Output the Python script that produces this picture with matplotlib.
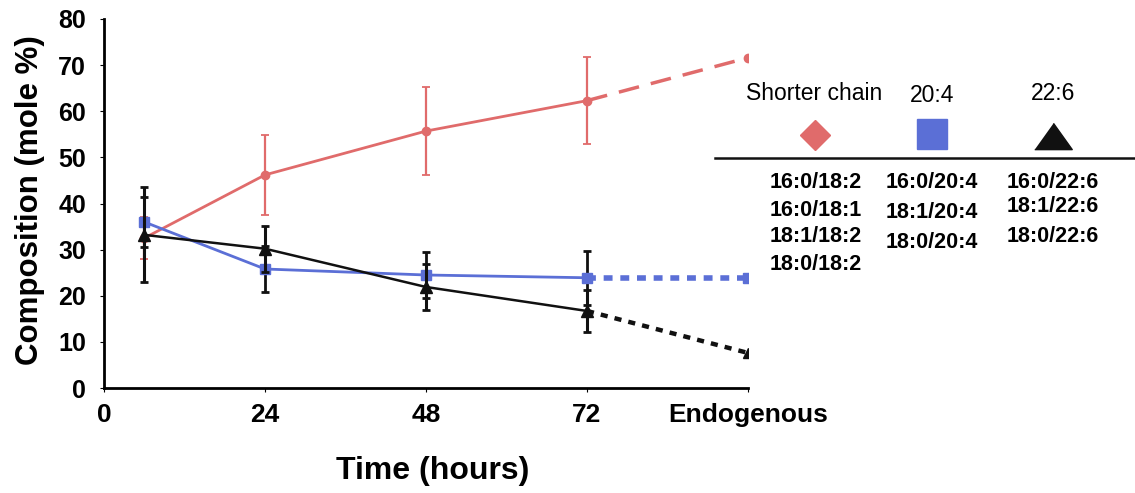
import matplotlib
matplotlib.use("Agg")
import matplotlib.pyplot as plt
from matplotlib.lines import Line2D
import numpy as np

plt.rcParams['font.family'] = ['Liberation Sans', 'DejaVu Sans']

# Sampling times (hours) and the endogenous reference position on the x axis
times = [6, 24, 48, 72]
endo_x = 96
xtick_pos = [0, 24, 48, 72, 96]
xtick_labels = ["0", "24", "48", "72", "Endogenous"]
yticks = [0, 10, 20, 30, 40, 50, 60, 70, 80]

# Composition (mole %) for each species class
shorter_mean = [32.5, 46.2, 55.7, 62.3]
shorter_err = [4.5, 8.6, 9.5, 9.5]
shorter_endo = 71.6

aa_mean = [36.0, 25.8, 24.5, 23.9]
aa_err = [5.5, 5.0, 5.0, 5.9]
aa_endo = 23.9

dha_mean = [33.2, 30.2, 21.9, 16.7]
dha_err = [10.3, 5.0, 5.0, 4.6]
dha_endo = 7.6

legend_headers = ["Shorter chain", "20:4", "22:6"]
legend_species = [
    ["16:0/18:2", "16:0/18:1", "18:1/18:2", "18:0/18:2"],
    ["16:0/20:4", "18:1/20:4", "18:0/20:4"],
    ["16:0/22:6", "18:1/22:6", "18:0/22:6"],
]

red = "#e06b6b"
blue = "#5b6fd6"
black = "#111111"

W, H = 1135, 493
fig = plt.figure(figsize=(W / 100, H / 100), dpi=100)
ax = fig.add_axes([104 / W, 1 - 388 / H, (748 - 104) / W, (388 - 19) / H])

# Measured time course (solid) with error bars
ax.errorbar(times, shorter_mean, yerr=shorter_err, color=red, lw=2,
            marker="o", ms=6, ecolor=red, elinewidth=1.6, capsize=3,
            capthick=1.3, zorder=3)
ax.errorbar(times, aa_mean, yerr=aa_err, color=blue, lw=2,
            marker="s", ms=7.5, ecolor=black, elinewidth=2, capsize=3,
            capthick=2, zorder=4)
ax.errorbar(times, dha_mean, yerr=dha_err, color=black, lw=1.8,
            marker="^", ms=9, ecolor=black, elinewidth=2.2, capsize=3,
            capthick=2, zorder=5)

# Extrapolation to the endogenous composition (dashed)
ax.plot([times[-1], endo_x], [shorter_mean[-1], shorter_endo], color=red,
        lw=2.5, ls=(0, (6, 3.5)), zorder=3)
ax.plot([endo_x], [shorter_endo], marker="o", ms=6, color=red, zorder=3)
ax.plot([times[-1], endo_x], [aa_mean[-1], aa_endo], color=blue,
        lw=4, ls=(0, (1.6, 1.4)), zorder=4)
ax.plot([endo_x], [aa_endo], marker="s", ms=7.5, color=blue, zorder=4)
ax.plot([times[-1], endo_x], [dha_mean[-1], dha_endo], color=black,
        lw=3.2, ls=(0, (1.6, 1.6)), zorder=5)
ax.plot([endo_x], [dha_endo], marker="^", ms=7, color=black, zorder=5)

ax.set_xlim(0, 96)
ax.set_ylim(0, 80)
ax.set_xticks(xtick_pos)
ax.set_xticklabels(xtick_labels, fontsize=19, fontweight="bold")
ax.set_yticks(yticks)
ax.set_yticklabels([str(v) for v in yticks], fontsize=18, fontweight="bold")
ax.tick_params(axis="y", length=3, width=0.8, pad=10, direction="out")
ax.tick_params(axis="x", length=3, width=0.8, pad=8, direction="out")
for s in ("top", "right"):
    ax.spines[s].set_visible(False)
ax.spines["left"].set_linewidth(2)
ax.spines["bottom"].set_linewidth(2)
ax.patch.set_alpha(0)

fig.text(30 / W, 1 - 200 / H, "Composition (mole %)", rotation=90,
         ha="center", va="center", fontsize=22.5, fontweight="bold")
fig.text(433 / W, 1 - 471 / H, "Time (hours)", ha="center", va="center",
         fontsize=23, fontweight="bold")

# Legend table drawn beside the axes
header_x = [814, 932, 1053]
header_y = [93, 96, 93]
for txt, hx, hy in zip(legend_headers, header_x, header_y):
    fig.text(hx / W, 1 - hy / H, txt, ha="center", va="center", fontsize=16.5)

fig.add_artist(Line2D([815 / W], [1 - 135 / H], marker="D", ms=15,
                      color=red, mec=red, transform=fig.transFigure))
fig.add_artist(Line2D([932 / W], [1 - 134 / H], marker="s", ms=21.5,
                      color=blue, mec=blue, transform=fig.transFigure))
tri = [(-1, -0.7), (1, -0.7), (0, 0.7)]
fig.add_artist(Line2D([1053 / W], [1 - 136 / H], marker=tri, ms=27,
                      color=black, mec=black, transform=fig.transFigure))
fig.add_artist(Line2D([715 / W, 1.0], [1 - 158 / H, 1 - 158 / H],
                      color=black, lw=1.8, transform=fig.transFigure))

col_x = [770, 886, 1007]
col_rows = [[182, 211, 237, 264], [182, 212, 242], [182, 207, 237]]
for species, cx, rows in zip(legend_species, col_x, col_rows):
    for name, ry in zip(species, rows):
        fig.text(cx / W, 1 - ry / H, name, ha="left", va="center",
                 fontsize=15.5, fontweight="bold")

fig.savefig("out.png", dpi=100)
